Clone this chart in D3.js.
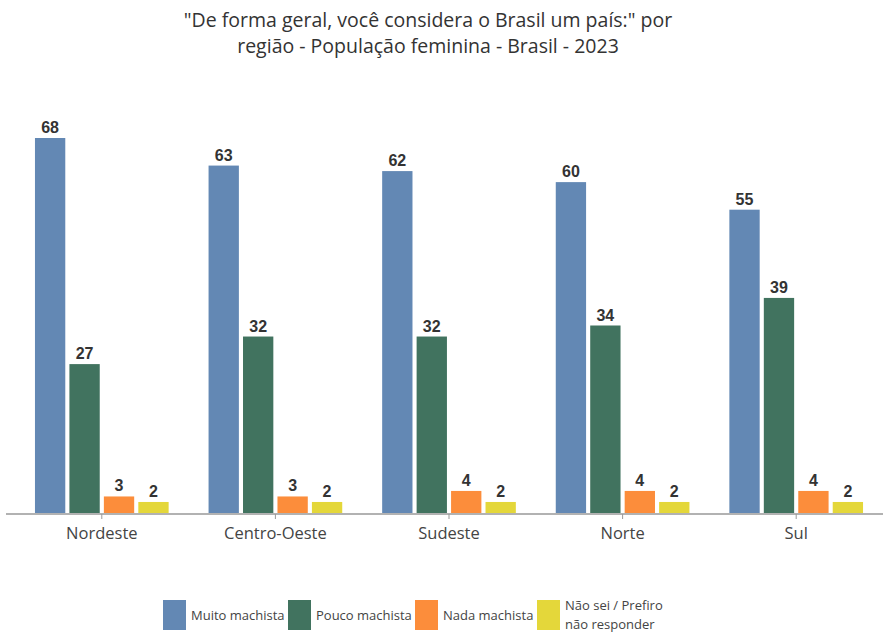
<!DOCTYPE html>
<html>
<head>
<meta charset="utf-8">
<script src="https://cdn.jsdelivr.net/npm/d3@7"></script>
<style>
  body { margin: 0; background: #fff; }
  svg { display: block; }
</style>
</head>
<body>
<svg id="chart" width="886" height="636"></svg>
<script>
// --- Data ---
const regions = ['Nordeste', 'Centro-Oeste', 'Sudeste', 'Norte', 'Sul'];
const seriesNames = ['Muito machista', 'Pouco machista', 'Nada machista', 'Não sei / Prefiro não responder'];
const muito = [68, 63, 62, 60, 55];
const pouco = [27, 32, 32, 34, 39];
const nada  = [3, 3, 4, 4, 4];
const naoSei = [2, 2, 2, 2, 2];
const colors = ['#6388b4', '#41735f', '#fc8d3b', '#e4d73a'];

const seriesValues = [muito, pouco, nada, naoSei];

const W = 886, H = 636;
const svg = d3.select('#chart');
const FONT = '"Open Sans", "Noto Sans", sans-serif';

// --- Title ---
const title = svg.append('text')
  .attr('text-anchor', 'middle')
  .attr('fill', '#333')
  .attr('font-family', FONT)
  .attr('font-size', '19.5px');
title.append('tspan').attr('x', 428).attr('y', 27).text('"De forma geral, você considera o Brasil um país:" por');
title.append('tspan').attr('x', 428).attr('y', 53).text('região - População feminina - Brasil - 2023');

// --- Scales ---
const x0 = d3.scaleBand()
  .domain(regions)
  .range([15, 883])
  .paddingInner(0.23)
  .paddingOuter(0.115);

const x1 = d3.scaleBand()
  .domain(d3.range(seriesNames.length))
  .range([0, x0.bandwidth()])
  .paddingInner(0.12);

const y = d3.scaleLinear()
  .domain([0, 68])
  .range([513, 138]);

// --- Bars ---
const groups = svg.append('g').selectAll('g')
  .data(regions)
  .join('g')
  .attr('transform', d => `translate(${x0(d)},0)`);

groups.selectAll('rect')
  .data((d, i) => seriesValues.map((vals, s) => ({ s, v: vals[i] })))
  .join('rect')
  .attr('x', d => x1(d.s))
  .attr('y', d => y(d.v))
  .attr('width', x1.bandwidth())
  .attr('height', d => y(0) - y(d.v))
  .attr('fill', d => colors[d.s]);

groups.selectAll('text')
  .data((d, i) => seriesValues.map((vals, s) => ({ s, v: vals[i] })))
  .join('text')
  .attr('x', d => x1(d.s) + x1.bandwidth() / 2)
  .attr('y', d => y(d.v) - 5)
  .attr('text-anchor', 'middle')
  .attr('fill', '#333')
  .attr('font-family', 'Arial, "Liberation Sans", sans-serif')
  .attr('font-weight', 'bold')
  .attr('font-size', '16px')
  .text(d => d.v);

// --- X axis ---
const xAxis = svg.append('g')
  .attr('transform', `translate(0,${y(0) + 1})`)
  .call(d3.axisBottom(x0).tickSize(5).tickSizeOuter(0));
xAxis.select('.domain').attr('stroke', '#999').attr('stroke-width', 1.5)
  .attr('d', `M6,0H883`);
xAxis.selectAll('.tick line').attr('stroke', '#999');
xAxis.selectAll('.tick text')
  .attr('fill', '#444')
  .attr('font-family', FONT)
  .attr('font-size', '16.5px')
  .attr('dy', '1.0em');

// --- Legend ---
const legendX = [163, 288, 415, 537];
const legend = svg.append('g');
seriesNames.forEach((name, i) => {
  const g = legend.append('g').attr('transform', `translate(${legendX[i]},600)`);
  g.append('rect').attr('width', 23).attr('height', 30).attr('fill', colors[i]);
  const t = g.append('text')
    .attr('fill', '#444')
    .attr('font-family', FONT)
    .attr('font-size', '13px');
  if (i === 3) {
    t.append('tspan').attr('x', 28).attr('y', 10).text('Não sei / Prefiro');
    t.append('tspan').attr('x', 28).attr('y', 29).text('não responder');
  } else {
    t.attr('x', 28).attr('y', 20).text(name);
  }
});
</script>
</body>
</html>
